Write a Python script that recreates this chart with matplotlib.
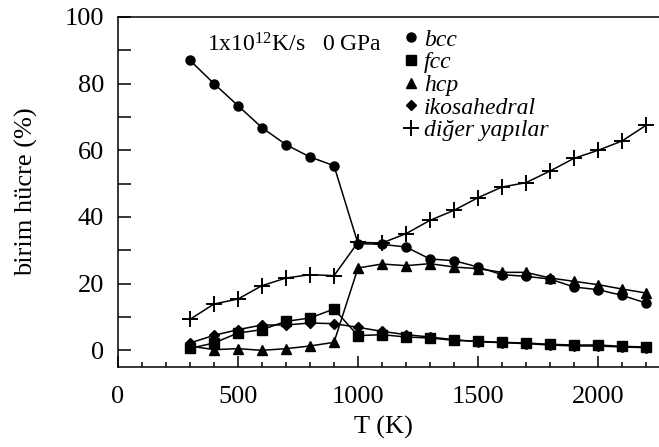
import matplotlib.pyplot as plt
from matplotlib.lines import Line2D
from matplotlib.ticker import MultipleLocator

plt.rcParams['font.family'] = ['Liberation Serif', 'DejaVu Serif']
plt.rcParams['mathtext.fontset'] = 'custom'
plt.rcParams['mathtext.rm'] = 'Liberation Serif'
plt.rcParams['mathtext.it'] = 'Liberation Serif:italic'

# sıcaklık (K) ve yapı oranları (%)
T = [300, 400, 500, 600, 700, 800, 900, 1000, 1100, 1200,
     1300, 1400, 1500, 1600, 1700, 1800, 1900, 2000, 2100, 2200]
bcc = [87.0, 80.0, 73.4, 66.8, 61.7, 58.0, 55.4, 32.0, 31.8, 31.0,
       27.4, 26.9, 25.0, 22.7, 22.2, 21.4, 19.0, 18.2, 16.5, 14.2]
fcc = [0.6, 2.2, 5.2, 6.2, 8.7, 9.7, 12.4, 4.4, 4.7, 4.0,
       3.7, 3.0, 2.7, 2.4, 2.2, 1.8, 1.6, 1.6, 1.2, 1.0]
hcp = [1.3, 0.2, 0.5, 0.0, 0.5, 1.3, 2.4, 24.7, 25.9, 25.4,
       26.0, 25.0, 24.5, 23.4, 23.4, 21.7, 20.7, 19.7, 18.4, 17.2]
iko = [2.2, 4.5, 6.2, 7.6, 7.6, 8.2, 8.0, 6.9, 5.7, 4.7,
       4.0, 3.2, 2.6, 2.3, 2.0, 1.6, 1.3, 1.3, 1.0, 0.8]
diger = [9.3, 13.9, 15.4, 19.4, 21.7, 22.7, 22.4, 32.4, 32.2, 35.0,
         39.0, 42.0, 45.8, 49.0, 50.3, 53.8, 57.6, 60.0, 62.8, 67.5]
labels = ['bcc', 'fcc', 'hcp', 'ikosahedral', 'diğer yapılar']

W, H = 659, 447
fig = plt.figure(figsize=(W/100, H/100), dpi=100)
ax = fig.add_axes([118/W, 1-367/H, 552/W, 350/H])

lw = 1.1
styles = [dict(marker='o', ms=6.5), dict(marker='s', ms=7), dict(marker='^', ms=7),
          dict(marker='D', ms=5.5), dict(marker='+', ms=11, mew=1.4)]
for y, st in zip([bcc, fcc, hcp, iko, diger], styles):
    ax.plot(T, y, '-', color='k', lw=lw, **st)

ax.set_xlim(0, 2300)
ax.set_ylim(-5, 100)
ax.xaxis.set_major_locator(MultipleLocator(500))
ax.xaxis.set_minor_locator(MultipleLocator(100))
ax.yaxis.set_major_locator(MultipleLocator(20))
ax.yaxis.set_minor_locator(MultipleLocator(10))
ax.tick_params(axis='both', which='both', direction='in', labelsize=19, width=1.1)
ax.tick_params(axis='x', which='major', length=8, pad=14)
ax.tick_params(axis='x', which='minor', length=3.6)
ax.tick_params(axis='y', which='both', length=9, pad=10)
ax.spines['right'].set_visible(False)
for s in ['left', 'top', 'bottom']:
    ax.spines[s].set_linewidth(1.1)

ax.set_xlabel('T (K)', fontsize=19)
ax.set_ylabel('birim hücre (%)', fontsize=19)
ax.xaxis.set_label_coords((383-118)/552, -0.14)
ax.yaxis.set_label_coords(-(118-38)/552, 0.5)

fig.text(207/W, 1-45/H, r'1x10$^{12}$K/s   0 GPa', fontsize=17, va='center')

handles = [Line2D([], [], ls='none', color='k', **st) for st in styles]
ax.legend(handles, labels, loc='upper left',
          bbox_to_anchor=(404/W, 1-29/H), bbox_transform=fig.transFigure,
          frameon=False, prop={'style': 'italic', 'size': 17},
          handlelength=0.6, handletextpad=0.25, labelspacing=0.05,
          borderpad=0, borderaxespad=0)

fig.savefig('out.png', dpi=100)
